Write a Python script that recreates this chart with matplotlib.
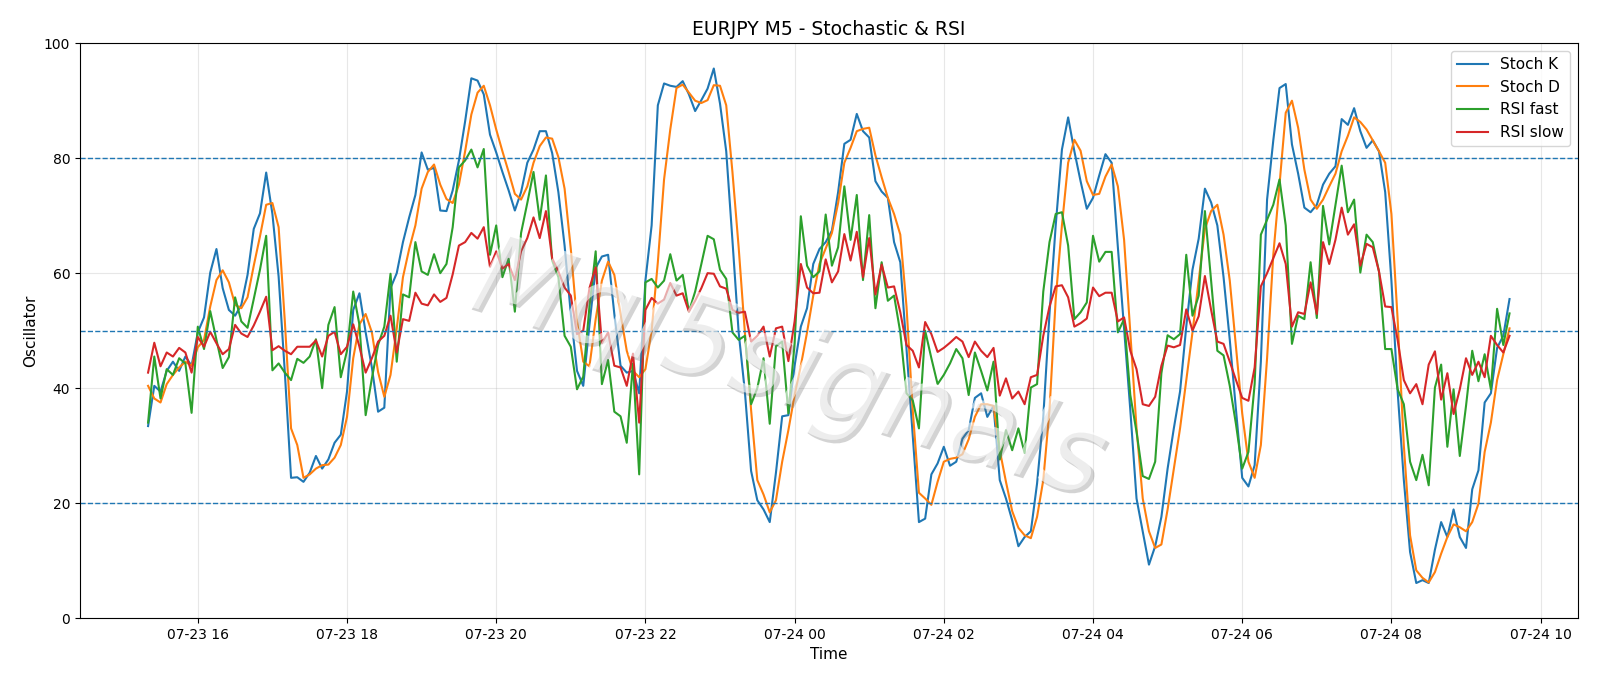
import matplotlib
matplotlib.use("Agg")
import matplotlib.pyplot as plt
import matplotlib.dates as mdates
import matplotlib.patheffects as pe
import pandas as pd

# M5 bars, 07-23 15:20 -> 07-24 09:35
times = pd.date_range("2024-07-23 15:20", periods=220, freq="5min")

stoch_k = [
    33.4, 40.4, 39.4, 43.0, 44.6, 43.0, 45.5, 43.9, 49.7, 52.3,
    60.1, 64.2, 57.4, 53.6, 52.6, 54.5, 59.7, 67.7, 70.4, 77.5,
    70.3, 59.4, 42.7, 24.4, 24.5, 23.7, 25.3, 28.2, 26.0, 27.6,
    30.5, 31.9, 39.4, 53.6, 56.5, 49.7, 43.6, 35.9, 36.6, 57.4,
    60.0, 65.4, 69.7, 73.6, 81.0, 78.0, 78.3, 70.9, 70.8, 74.4,
    79.6, 86.4, 93.9, 93.5, 91.1, 84.1, 81.0, 77.6, 74.4, 70.9,
    74.1, 79.2, 81.5, 84.7, 84.7, 80.9, 74.1, 64.8, 52.9, 43.0,
    40.4, 51.0, 60.9, 62.9, 63.2, 52.9, 43.9, 42.7, 43.0, 39.1,
    58.7, 68.3, 89.2, 93.0, 92.6, 92.4, 93.4, 91.1, 88.2, 90.1,
    92.1, 95.6, 89.5, 81.2, 65.7, 49.7, 39.4, 25.6, 20.5, 18.9,
    16.7, 25.3, 35.1, 35.3, 43.9, 50.7, 53.9, 61.6, 64.2, 65.4,
    67.4, 74.1, 82.5, 83.2, 87.7, 84.7, 83.6, 76.0, 74.2, 73.1,
    65.4, 61.9, 46.8, 31.7, 16.7, 17.3, 25.0, 26.9, 29.8, 26.5,
    27.2, 31.2, 32.7, 38.3, 39.1, 35.0, 36.9, 24.0, 20.8, 17.0,
    12.5, 14.1, 15.1, 23.4, 35.0, 52.9, 68.3, 81.5, 87.1, 81.2,
    76.0, 71.2, 73.1, 77.0, 80.7, 79.2, 64.5, 50.4, 36.2, 20.8,
    15.1, 9.3, 12.5, 17.6, 26.0, 33.0, 39.4, 50.7, 60.6, 66.0,
    74.7, 72.3, 68.3, 59.3, 48.4, 36.2, 24.4, 22.9, 26.6, 44.6,
    72.8, 83.1, 92.2, 92.9, 82.4, 77.3, 71.4, 70.6, 71.9, 75.4,
    77.3, 78.6, 86.8, 85.8, 88.7, 84.7, 81.8, 83.1, 81.2, 74.1,
    58.7, 39.4, 24.0, 11.5, 6.1, 6.6, 6.1, 11.9, 16.7, 14.1,
    18.9, 14.1, 12.2, 22.4, 25.7, 37.5, 39.1, 47.0, 49.1, 55.5,
]

stoch_d = [
    40.4, 38.2, 37.5, 40.7, 42.3, 43.6, 44.6, 43.9, 47.1, 48.4,
    54.2, 58.8, 60.5, 58.4, 54.5, 53.9, 55.8, 61.3, 66.4, 71.9,
    72.2, 68.0, 51.6, 33.0, 30.1, 24.4, 25.0, 26.0, 26.6, 26.7,
    27.9, 30.1, 35.0, 45.2, 51.1, 52.9, 49.7, 42.8, 38.5, 42.3,
    50.4, 59.3, 64.2, 68.3, 74.7, 77.6, 78.9, 75.4, 72.9, 72.2,
    75.4, 81.2, 87.6, 91.4, 92.6, 89.2, 85.0, 81.2, 77.6, 73.8,
    72.8, 75.1, 79.2, 82.1, 83.6, 83.4, 80.2, 74.7, 64.2, 51.6,
    44.6, 43.8, 52.0, 58.7, 62.0, 59.7, 52.9, 46.5, 43.0, 41.9,
    43.3, 50.0, 61.9, 76.3, 85.0, 92.2, 92.8, 91.4, 90.0, 89.6,
    90.1, 92.7, 92.6, 89.2, 77.6, 64.5, 49.7, 36.2, 24.0, 21.5,
    18.4, 20.5, 27.2, 32.7, 38.8, 43.9, 49.7, 56.1, 61.6, 64.3,
    67.0, 72.2, 79.2, 81.8, 84.7, 85.1, 85.3, 80.5, 76.7, 73.1,
    70.3, 66.7, 54.2, 36.2, 21.8, 20.8, 19.7, 23.7, 27.2, 27.7,
    27.9, 28.5, 31.1, 35.0, 37.2, 37.2, 36.9, 29.2, 23.7, 18.6,
    15.7, 14.4, 13.9, 17.6, 24.0, 36.2, 55.5, 68.3, 79.2, 83.2,
    81.3, 76.0, 73.6, 73.8, 76.8, 78.9, 75.1, 65.8, 49.7, 33.0,
    20.8, 15.1, 12.2, 12.8, 18.9, 26.0, 33.0, 41.4, 49.7, 58.7,
    67.7, 70.8, 71.9, 66.7, 58.7, 47.2, 35.6, 27.2, 24.4, 30.1,
    45.2, 63.2, 75.4, 87.9, 90.0, 85.3, 78.0, 72.8, 71.2, 72.8,
    75.1, 77.3, 81.2, 83.9, 87.1, 86.3, 85.0, 83.1, 81.2, 79.2,
    70.3, 52.0, 30.0, 14.4, 8.3, 7.0, 6.2, 8.0, 11.2, 14.1,
    16.3, 15.8, 15.1, 16.7, 19.9, 28.9, 34.0, 41.4, 45.9, 50.4,
]

rsi_fast = [
    34.0, 45.5, 38.2, 43.3, 42.3, 45.2, 44.3, 35.7, 50.7, 46.8,
    53.4, 48.4, 43.5, 45.4, 55.8, 51.6, 50.5, 55.5, 60.6, 66.5,
    43.1, 44.3, 42.7, 41.4, 45.1, 44.4, 45.5, 48.5, 40.0, 51.0,
    54.1, 41.9, 46.5, 56.8, 51.0, 35.3, 41.7, 47.5, 50.7, 59.9,
    44.6, 56.3, 55.8, 65.4, 60.3, 59.7, 63.3, 60.0, 61.6, 68.0,
    78.4, 79.6, 81.5, 78.4, 81.6, 63.2, 68.3, 59.3, 62.5, 53.3,
    67.0, 72.2, 77.6, 69.3, 77.0, 62.2, 59.3, 49.1, 47.2, 39.8,
    42.0, 54.2, 63.8, 40.7, 44.9, 35.9, 35.1, 30.5, 44.3, 25.0,
    58.4, 59.0, 57.5, 58.7, 63.3, 58.7, 59.7, 53.3, 56.8, 61.6,
    66.5, 65.9, 60.6, 59.0, 49.7, 48.4, 49.1, 37.2, 40.0, 45.2,
    33.8, 47.3, 48.1, 35.6, 47.8, 69.9, 61.3, 59.3, 60.3, 70.2,
    61.3, 64.5, 75.1, 65.8, 73.6, 58.8, 70.1, 53.9, 61.9, 55.2,
    56.1, 49.7, 39.1, 37.9, 33.0, 50.0, 45.2, 40.7, 42.3, 44.3,
    46.8, 45.2, 38.8, 46.2, 43.0, 39.6, 44.6, 27.6, 32.7, 29.2,
    33.0, 28.7, 40.1, 40.7, 56.8, 65.4, 70.3, 70.6, 64.8, 52.0,
    53.2, 54.9, 66.5, 62.0, 63.7, 63.7, 49.7, 52.0, 38.8, 32.4,
    24.7, 24.2, 27.2, 42.6, 49.2, 48.5, 49.4, 63.2, 52.6, 56.1,
    70.8, 58.7, 46.5, 45.7, 40.4, 33.7, 26.0, 28.9, 40.7, 66.7,
    69.3, 71.9, 76.3, 68.3, 47.7, 52.6, 52.0, 61.9, 52.2, 71.7,
    65.0, 71.9, 78.7, 70.6, 72.8, 60.1, 66.7, 65.4, 60.3, 46.8,
    46.8, 39.8, 37.2, 27.2, 24.0, 28.4, 23.1, 40.1, 44.1, 29.8,
    39.8, 28.2, 36.9, 46.5, 41.2, 45.9, 39.8, 53.8, 47.5, 53.0,
]

rsi_slow = [
    42.7, 47.9, 43.8, 46.2, 45.5, 47.0, 46.2, 42.7, 48.9, 47.2,
    49.8, 47.8, 45.9, 46.8, 51.0, 49.5, 48.9, 50.9, 53.3, 55.9,
    46.6, 47.3, 46.5, 45.9, 47.2, 47.2, 47.2, 48.3, 45.5, 49.1,
    49.8, 45.9, 47.2, 51.1, 47.2, 42.7, 45.2, 48.1, 49.1, 52.6,
    46.2, 52.0, 51.7, 56.6, 54.7, 54.4, 56.3, 55.0, 55.7, 59.8,
    64.8, 65.4, 67.0, 66.0, 68.0, 61.1, 63.8, 60.8, 61.6, 58.8,
    63.8, 66.1, 69.7, 66.1, 70.8, 62.6, 60.3, 57.5, 56.1, 49.4,
    50.0, 57.4, 61.0, 47.8, 49.7, 43.9, 43.6, 40.4, 46.0, 34.0,
    53.6, 55.7, 54.7, 55.4, 58.3, 56.1, 56.5, 53.3, 55.2, 57.4,
    60.0, 59.9, 57.7, 57.3, 53.6, 53.1, 53.3, 48.1, 49.1, 50.7,
    45.5, 50.4, 50.7, 44.7, 51.6, 61.6, 57.5, 56.5, 56.6, 62.4,
    58.4, 60.3, 66.8, 62.2, 67.2, 59.3, 66.1, 56.3, 61.5, 57.5,
    57.7, 53.2, 47.5, 46.5, 43.6, 51.5, 49.4, 46.3, 47.0, 47.9,
    48.9, 48.1, 45.4, 48.1, 46.5, 45.4, 47.0, 38.7, 41.7, 38.2,
    39.4, 37.2, 41.9, 42.3, 49.1, 54.2, 57.7, 57.9, 55.8, 50.7,
    51.3, 52.1, 57.5, 56.0, 56.6, 56.6, 51.6, 52.3, 46.5, 43.3,
    37.2, 36.9, 38.5, 43.9, 47.4, 47.1, 47.5, 53.7, 50.0, 52.5,
    59.5, 53.6, 48.1, 47.7, 44.6, 41.4, 38.3, 37.8, 43.6, 57.7,
    60.0, 62.6, 65.2, 61.6, 50.7, 53.2, 52.9, 58.4, 52.9, 65.4,
    61.6, 65.8, 71.4, 66.7, 68.5, 61.3, 65.1, 64.5, 60.3, 54.2,
    54.1, 48.4, 41.4, 39.1, 40.7, 37.2, 44.1, 46.4, 38.0, 42.6,
    35.5, 39.8, 45.2, 42.3, 44.6, 41.9, 49.1, 47.5, 46.2, 49.1,
]

levels = [80, 50, 20]

fig, ax = plt.subplots(figsize=(16, 6.86), dpi=100)
fig.subplots_adjust(left=0.05, right=0.986, top=0.937, bottom=0.099)

ax.plot(times, stoch_k, label="Stoch K", linewidth=1.5)
ax.plot(times, stoch_d, label="Stoch D", linewidth=1.5)
ax.plot(times, rsi_fast, label="RSI fast", linewidth=1.5)
ax.plot(times, rsi_slow, label="RSI slow", linewidth=1.5)

for lv in levels:
    ax.axhline(lv, color="#1f77b4", linestyle="--", linewidth=1)

ax.set_ylim(0, 100)
ax.set_title("EURJPY M5 - Stochastic & RSI", fontsize=13.5)
ax.set_xlabel("Time", fontsize=11)
ax.set_ylabel("Oscillator", fontsize=11)
ax.xaxis.set_major_locator(mdates.HourLocator(byhour=range(0, 24, 2)))
ax.xaxis.set_major_formatter(mdates.DateFormatter("%m-%d %H"))
ax.tick_params(labelsize=10)
ax.grid(True, alpha=0.3)
ax.legend(loc="upper right", fontsize=11)

# watermark: thin white text with a soft grey shadow
fig.text(0.492, 0.458, "Mql5signals", fontsize=80, style="italic",
         fontweight=200, color="white", alpha=0.6, rotation=-17,
         ha="center", va="center", zorder=5,
         path_effects=[pe.withSimplePatchShadow(offset=(2.5, -2.5),
                                                shadow_rgbFace="#707070",
                                                alpha=0.3)])

plt.savefig("out.png")
